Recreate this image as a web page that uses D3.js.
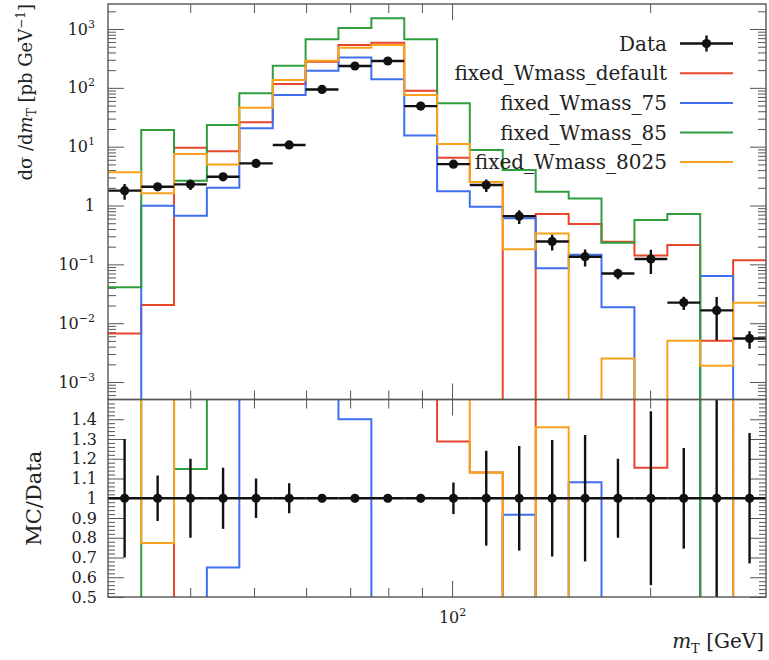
<!DOCTYPE html>
<html>
<head>
<meta charset="utf-8">
<script src="https://cdn.jsdelivr.net/npm/d3@7"></script>
<style>
  body { margin: 0; background: #fff; }
  svg text { font-family: "DejaVu Serif", "Liberation Serif", serif; fill: #222; }
</style>
</head>
<body>
<div id="plot"></div>
<script>
// bin edges in m_T [GeV] (20 log-spaced bins from 30 to 300)
const binEdges = [30, 33.7, 37.8, 42.4, 47.5, 53.4, 59.9, 67.2, 75.4, 84.6, 94.9,
  106.4, 119.4, 134.0, 150.4, 168.7, 189.3, 212.4, 238.3, 267.4, 300];

// measured cross section, pb/GeV
const dataVals = [1.79, 2.08, 2.29, 3.08, 5.2, 10.7, 94, 235, 286, 49,
  5.05, 2.23, 0.66, 0.245, 0.135, 0.070, 0.123, 0.0224, 0.0165, 0.0055];
// relative uncertainty of the data
const dataRelErr = [0.30, 0.115, 0.20, 0.155, 0.10, 0.076, 0.02, 0.02, 0.02, 0.02,
  0.08, 0.24, 0.265, 0.295, 0.32, 0.20, 0.44, 0.255, 0.69, 0.33];

// MC predictions (0 = empty bin)
const mcDefault = [0.0067, 0.0203, 9.6, 8.4, 26, 116, 278, 535, 585, 89,
  6.5, 2.52, 0, 0.716, 0.484, 0.243, 0.142, 0.213, 0.00503, 0.118];
const mc75 = [0, 0.99, 0.671, 2.0, 20.5, 75.5, 195, 329, 140, 15.5,
  1.75, 0.953, 0.605, 0.0855, 0.146, 0.0186, 0, 0, 0.0634, 0];
const mc85 = [0.0407, 19.2, 2.63, 23.3, 80.7, 238, 668, 1040, 1520, 668,
  54.6, 8.8, 4.0, 1.71, 1.32, 0.234, 0.566, 0.716, 0, 0];
const mc8025 = [3.66, 1.61, 7.5, 5.0, 45.9, 136, 289, 481, 535, 75.5,
  11.1, 2.52, 0.18, 0.333, 0, 0.00252, 0, 0.00503, 0.00189, 0.0223];

const seriesNames = ["fixed_Wmass_default", "fixed_Wmass_75", "fixed_Wmass_85", "fixed_Wmass_8025"];
const seriesVals = [mcDefault, mc75, mc85, mc8025];
const seriesColors = ["#e8462a", "#3f6ff0", "#2e9e3e", "#f8a21c"];

// ticks
const xMajor = [100];
const xMinor = [40, 50, 60, 70, 80, 90, 200];
const yMajor = [1e-3, 1e-2, 1e-1, 1, 10, 100, 1000];
const yExpo = ["−3", "−2", "−1", "", "1", "2", "3"];
const ratioMajor = [0.5, 0.6, 0.7, 0.8, 0.9, 1, 1.1, 1.2, 1.3, 1.4];

// ---- geometry
const W = 769, H = 660;
const pL = 108, pR = 766, pT = 4, pM = 399.5, pB = 597;

const x = d3.scaleLog().domain([30, 300]).range([pL, pR]);
const y = d3.scaleLog().domain([5.05e-4, 2661]).range([pM, pT]);
const yr = d3.scaleLinear().domain([0.5, 1.5]).range([pB, pM]);

const svg = d3.select("#plot").append("svg")
  .attr("width", W).attr("height", H);

const defs = svg.append("defs");
defs.append("clipPath").attr("id", "clipTop")
  .append("rect").attr("x", pL).attr("y", pT).attr("width", pR - pL).attr("height", pM - pT);
defs.append("clipPath").attr("id", "clipBot")
  .append("rect").attr("x", pL).attr("y", pM).attr("width", pR - pL).attr("height", pB - pM);

// minor ticks for log y
const yMinor = [];
[1e-4, 1e-3, 1e-2, 1e-1, 1, 10, 100, 1000].forEach(d => {
  for (let k = 2; k <= 9; k++) {
    const v = k * d;
    if (v > y.domain()[0] && v < y.domain()[1]) yMinor.push(v);
  }
});
const ratioMinor = d3.range(0.5, 1.5001, 0.02).filter(v => Math.abs(v * 10 - Math.round(v * 10)) > 1e-6);

function cleanAxis(g) {
  g.select(".domain").remove();
  g.selectAll(".tick line").attr("stroke", "#555").attr("stroke-width", 1);
}

// ---- axes: x ticks on all four horizontal edges
[[pT, d3.axisTop], [pM, d3.axisBottom], [pM, d3.axisTop], [pB, d3.axisBottom]].forEach(([yy, ax]) => {
  svg.append("g").attr("transform", `translate(0,${yy})`)
    .call(ax(x).tickValues(xMinor).tickSize(-9).tickFormat(""))
    .call(cleanAxis);
  svg.append("g").attr("transform", `translate(0,${yy})`)
    .call(ax(x).tickValues(xMajor).tickSize(-16).tickFormat(""))
    .call(cleanAxis);
});

// x tick label "10^2"
svg.append("g").attr("transform", `translate(0,${pB})`)
  .call(d3.axisBottom(x).tickValues(xMajor).tickSize(0).tickFormat(""))
  .call(g => g.select(".domain").remove())
  .selectAll(".tick").each(function () {
    const t = d3.select(this).append("text").attr("y", 26).attr("text-anchor", "middle")
      .style("font-size", "16px");
    t.append("tspan").text("10");
    t.append("tspan").attr("dy", -7).style("font-size", "11px").text("2");
  });

// upper y axes
[[pL, d3.axisLeft], [pR, d3.axisRight]].forEach(([xx, ax]) => {
  svg.append("g").attr("transform", `translate(${xx},0)`)
    .call(ax(y).tickValues(yMinor).tickSize(-8).tickFormat(""))
    .call(cleanAxis);
  svg.append("g").attr("transform", `translate(${xx},0)`)
    .call(ax(y).tickValues(yMajor).tickSize(-16).tickFormat(""))
    .call(cleanAxis);
});
svg.append("g").attr("transform", `translate(${pL},0)`)
  .call(d3.axisLeft(y).tickValues(yMajor).tickSize(0).tickFormat(""))
  .call(g => g.select(".domain").remove())
  .selectAll(".tick").each(function (d, i) {
    const t = d3.select(this).append("text").attr("x", -13).attr("dy", "0.32em")
      .attr("text-anchor", "end").style("font-size", "16px");
    if (yExpo[i] === "") {
      t.text("1");
    } else {
      t.append("tspan").text("10");
      t.append("tspan").attr("dy", -7).style("font-size", "11px").text(yExpo[i]);
    }
  });

// ratio y axes
[[pL, d3.axisLeft], [pR, d3.axisRight]].forEach(([xx, ax]) => {
  svg.append("g").attr("transform", `translate(${xx},0)`)
    .call(ax(yr).tickValues(ratioMinor).tickSize(-7).tickFormat(""))
    .call(cleanAxis);
  svg.append("g").attr("transform", `translate(${xx},0)`)
    .call(ax(yr).tickValues(ratioMajor).tickSize(-16).tickFormat(""))
    .call(cleanAxis);
});
svg.append("g").attr("transform", `translate(${pL},0)`)
  .call(d3.axisLeft(yr).tickValues(ratioMajor).tickSize(0).tickPadding(11)
    .tickFormat(d => d === 1 ? "1" : d.toFixed(1)))
  .call(g => g.select(".domain").remove())
  .selectAll(".tick text").style("font-size", "16px").attr("fill", "#222");

// ---- histograms
const step = d3.line().curve(d3.curveStepAfter);
function stepPts(vals, f) {
  const pts = vals.map((v, i) => [x(binEdges[i]), f(v, i)]);
  pts.push([x(binEdges[vals.length]), f(vals[vals.length - 1], vals.length - 1)]);
  return pts;
}
const gTop = svg.append("g").attr("clip-path", "url(#clipTop)");
const gBot = svg.append("g").attr("clip-path", "url(#clipBot)");

seriesVals.forEach((vals, s) => {
  gTop.append("path")
    .attr("d", step(stepPts(vals, v => v > 0 ? y(v) : pM + 30)))
    .attr("fill", "none").attr("stroke", seriesColors[s]).attr("stroke-width", 2);
  gBot.append("path")
    .attr("d", step(stepPts(vals, (v, i) => yr(v / dataVals[i]))))
    .attr("fill", "none").attr("stroke", seriesColors[s]).attr("stroke-width", 2);
});

// ---- data
const centers = dataVals.map((v, i) => Math.sqrt(binEdges[i] * binEdges[i + 1]));
dataVals.forEach((v, i) => {
  // upper
  gTop.append("line").attr("x1", x(binEdges[i])).attr("x2", x(binEdges[i + 1]))
    .attr("y1", y(v)).attr("y2", y(v)).attr("stroke", "#111").attr("stroke-width", 2.4);
  gTop.append("line").attr("x1", x(centers[i])).attr("x2", x(centers[i]))
    .attr("y1", y(v * (1 + dataRelErr[i]))).attr("y2", y(v * (1 - dataRelErr[i])))
    .attr("stroke", "#111").attr("stroke-width", 2.4);
  gTop.append("circle").attr("cx", x(centers[i])).attr("cy", y(v)).attr("r", 4.6).attr("fill", "#111");
  // ratio
  gBot.append("line").attr("x1", x(binEdges[i])).attr("x2", x(binEdges[i + 1]))
    .attr("y1", yr(1)).attr("y2", yr(1)).attr("stroke", "#111").attr("stroke-width", 2.4);
  gBot.append("line").attr("x1", x(centers[i])).attr("x2", x(centers[i]))
    .attr("y1", yr(1 + dataRelErr[i])).attr("y2", yr(1 - dataRelErr[i]))
    .attr("stroke", "#111").attr("stroke-width", 2.4);
  gBot.append("circle").attr("cx", x(centers[i])).attr("cy", yr(1)).attr("r", 4.6).attr("fill", "#111");
});

// ---- frames
svg.append("rect").attr("x", pL).attr("y", pT).attr("width", pR - pL).attr("height", pM - pT)
  .attr("fill", "none").attr("stroke", "#555").attr("stroke-width", 1.4);
svg.append("rect").attr("x", pL).attr("y", pM).attr("width", pR - pL).attr("height", pB - pM)
  .attr("fill", "none").attr("stroke", "#555").attr("stroke-width", 1.4);

// ---- legend
const legRows = [43.5, 73.3, 103, 132.5, 162];
const legTextX = 667, legX1 = 680, legX2 = 733;
const legend = svg.append("g");
["Data"].concat(seriesNames).forEach((name, i) => {
  legend.append("text").attr("x", legTextX).attr("y", legRows[i]).attr("dy", "0.35em")
    .attr("text-anchor", "end").style("font-size", "20px").text(name);
  legend.append("line").attr("x1", legX1).attr("x2", legX2).attr("y1", legRows[i]).attr("y2", legRows[i])
    .attr("stroke", i === 0 ? "#111" : seriesColors[i - 1]).attr("stroke-width", i === 0 ? 2.4 : 2);
});
legend.append("line").attr("x1", (legX1 + legX2) / 2).attr("x2", (legX1 + legX2) / 2)
  .attr("y1", legRows[0] - 8).attr("y2", legRows[0] + 8).attr("stroke", "#111").attr("stroke-width", 2.4);
legend.append("circle").attr("cx", (legX1 + legX2) / 2).attr("cy", legRows[0]).attr("r", 4.6).attr("fill", "#111");

// ---- axis titles
const yt = svg.append("text").attr("transform", `translate(32,${pT}) rotate(-90)`)
  .attr("text-anchor", "end").style("font-size", "18px");
yt.append("tspan").text("dσ /d");
yt.append("tspan").style("font-style", "italic").text("m");
yt.append("tspan").attr("dy", 4).style("font-size", "12px").text("T");
yt.append("tspan").attr("dy", -4).text(" [pb GeV");
yt.append("tspan").attr("dy", -7).style("font-size", "12px").text("−1");
yt.append("tspan").attr("dy", 7).text("]");

svg.append("text").attr("transform", `translate(41,${(pM + pB) / 2}) rotate(-90)`)
  .attr("text-anchor", "middle").style("font-size", "21px").text("MC/Data");

const xt = svg.append("text").attr("x", 764).attr("y", 648).attr("text-anchor", "end")
  .style("font-size", "20px");
xt.append("tspan").style("font-style", "italic").text("m");
xt.append("tspan").attr("dy", 5).style("font-size", "13px").text("T");
xt.append("tspan").attr("dy", -5).text(" [GeV]");
</script>
</body>
</html>
